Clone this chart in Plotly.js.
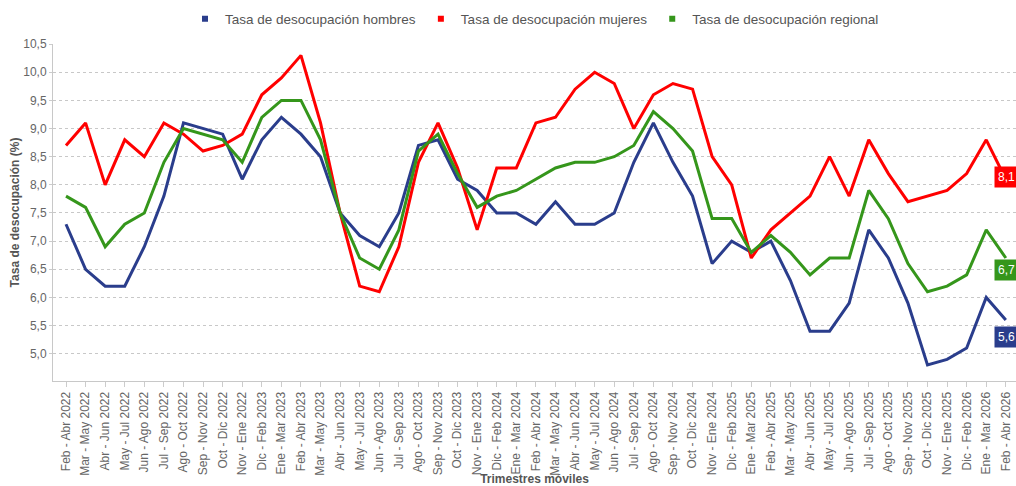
<!DOCTYPE html>
<html>
<head>
<meta charset="utf-8">
<script src="https://cdn.plot.ly/plotly-3.0.1.min.js"></script>
<style>
  html, body { margin: 0; padding: 0; background: #ffffff; }
  #chart { width: 1016px; height: 486px; }
</style>
</head>
<body>
<div id="chart"></div>
<script>
const categories = [
  'Feb - Abr 2022','Mar - May 2022','Abr - Jun 2022','May - Jul 2022','Jun - Ago 2022','Jul - Sep 2022',
  'Ago - Oct 2022','Sep - Nov 2022','Oct - Dic 2022','Nov - Ene 2022',
  'Dic - Feb 2023','Ene - Mar 2023','Feb - Abr 2023','Mar - May 2023','Abr - Jun 2023','May - Jul 2023',
  'Jun - Ago 2023','Jul - Sep 2023','Ago - Oct 2023','Sep - Nov 2023','Oct - Dic 2023','Nov - Ene 2023',
  'Dic - Feb 2024','Ene - Mar 2024','Feb - Abr 2024','Mar - May 2024','Abr - Jun 2024','May - Jul 2024',
  'Jun - Ago 2024','Jul - Sep 2024','Ago - Oct 2024','Sep - Nov 2024','Oct - Dic 2024','Nov - Ene 2024',
  'Dic - Feb 2025','Ene - Mar 2025','Feb - Abr 2025','Mar - May 2025','Abr - Jun 2025','May - Jul 2025',
  'Jun - Ago 2025','Jul - Sep 2025','Ago - Oct 2025','Sep - Nov 2025','Oct - Dic 2025','Nov - Ene 2025',
  'Dic - Feb 2026','Ene - Mar 2026','Feb - Abr 2026'
];

const hombres = [
  7.3, 6.5, 6.2, 6.2, 6.9, 7.8, 9.1, 9.0, 8.9, 8.1,
  8.8, 9.2, 8.9, 8.5, 7.5, 7.1, 6.9, 7.5, 8.7, 8.8, 8.1, 7.9,
  7.5, 7.5, 7.3, 7.7, 7.3, 7.3, 7.5, 8.4, 9.1, 8.4, 7.8, 6.6,
  7.0, 6.8, 7.0, 6.3, 5.4, 5.4, 5.9, 7.2, 6.7, 5.9, 4.8, 4.9,
  5.1, 6.0, 5.6
];

const mujeres = [
  8.7, 9.1, 8.0, 8.8, 8.5, 9.1, 8.9, 8.6, 8.7, 8.9,
  9.6, 9.9, 10.3, 9.1, 7.5, 6.2, 6.1, 6.9, 8.4, 9.1, 8.3, 7.2,
  8.3, 8.3, 9.1, 9.2, 9.7, 10.0, 9.8, 9.0, 9.6, 9.8, 9.7, 8.5,
  8.0, 6.7, 7.2, 7.5, 7.8, 8.5, 7.8, 8.8, 8.2, 7.7, 7.8, 7.9,
  8.2, 8.8, 8.1
];

const regional = [
  7.8, 7.6, 6.9, 7.3, 7.5, 8.4, 9.0, 8.9, 8.8, 8.4,
  9.2, 9.5, 9.5, 8.8, 7.5, 6.7, 6.5, 7.2, 8.6, 8.9, 8.2, 7.6,
  7.8, 7.9, 8.1, 8.3, 8.4, 8.4, 8.5, 8.7, 9.3, 9.0, 8.6, 7.4,
  7.4, 6.8, 7.1, 6.8, 6.4, 6.7, 6.7, 7.9, 7.4, 6.6, 6.1, 6.2,
  6.4, 7.2, 6.7
];

const seriesNames = [
  'Tasa de desocupación hombres',
  'Tasa de desocupación mujeres',
  'Tasa de desocupación regional'
];

const yTickValues = [5.0, 5.5, 6.0, 6.5, 7.0, 7.5, 8.0, 8.5, 9.0, 9.5, 10.0, 10.5];
const yTickLabels = ['5,0', '5,5', '6,0', '6,5', '7,0', '7,5', '8,0', '8,5', '9,0', '9,5', '10,0', '10,5'];

const xTitle = 'Trimestres móviles';
const yTitle = 'Tasa de desocupación (%)';

// ---- styling ----
const FONT = 'Liberation Sans, Arial, Helvetica, sans-serif';
const colors = ['#2a3d8c', '#ff0000', '#35961b'];
const seriesData = [hombres, mujeres, regional];
const labelShift = [-17, 2, -12];

const traces = [];
seriesData.forEach((vals, i) => {
  traces.push({
    type: 'scatter',
    mode: 'lines',
    x: categories,
    y: vals,
    name: seriesNames[i],
    line: { color: colors[i], width: 3 },
    showlegend: false,
    hoverinfo: 'x+y+name'
  });
});
// legend entries with square symbols
seriesData.forEach((vals, i) => {
  traces.push({
    type: 'scatter',
    mode: 'markers',
    x: [null],
    y: [null],
    name: seriesNames[i],
    marker: { symbol: 'square', size: 6, color: colors[i] },
    showlegend: true,
    hoverinfo: 'skip'
  });
});

const lastIdx = categories.length - 1;
const annotations = seriesData.map((vals, i) => ({
  x: categories[lastIdx],
  y: vals[lastIdx],
  xref: 'x',
  yref: 'y',
  text: vals[lastIdx].toFixed(1).replace('.', ','),
  showarrow: false,
  xanchor: 'left',
  yanchor: 'middle',
  xshift: -12,
  yshift: labelShift[i],
  bgcolor: colors[i],
  borderpad: 3,
  font: { family: FONT, size: 12, color: '#ffffff' }
}));

const layout = {
  width: 1016,
  height: 486,
  margin: { l: 53, r: 0, t: 44, b: 105, pad: 0 },
  paper_bgcolor: '#ffffff',
  plot_bgcolor: '#ffffff',
  font: { family: FONT, size: 12, color: '#666666' },
  showlegend: true,
  legend: {
    orientation: 'h',
    x: 0.5,
    xanchor: 'center',
    xref: 'paper',
    y: 1 - 19 / 486,
    yref: 'container',
    yanchor: 'middle',
    font: { family: FONT, size: 13.5, color: '#555555' },
    itemwidth: 30,
    bgcolor: 'rgba(0,0,0,0)'
  },
  xaxis: {
    type: 'category',
    range: [-0.664, 48.52],
    tickangle: -90,
    tickfont: { family: FONT, size: 12, color: '#666666' },
    ticks: 'outside',
    ticklen: 5,
    tickcolor: '#cccccc',
    showline: true,
    linecolor: '#c8c8c8',
    linewidth: 1,
    showgrid: false,
    zeroline: false,
    automargin: false,
    title: {
      text: xTitle,
      font: { family: FONT, size: 12, color: '#555555', weight: 'bold' },
      standoff: 3
    }
  },
  yaxis: {
    range: [4.515, 10.502],
    tickvals: yTickValues,
    ticktext: yTickLabels,
    tickfont: { family: FONT, size: 12, color: '#666666' },
    ticks: 'outside',
    ticklen: 3,
    tickcolor: '#cccccc',
    showline: true,
    linecolor: '#c8c8c8',
    linewidth: 1,
    showgrid: true,
    gridcolor: '#c8c8c8',
    griddash: 'dot',
    gridwidth: 1,
    zeroline: false,
    automargin: false,
    title: {
      text: yTitle,
      font: { family: FONT, size: 12, color: '#555555', weight: 'bold' },
      standoff: 1
    }
  },
  annotations: annotations
};

Plotly.newPlot('chart', traces, layout, { displayModeBar: false, responsive: false, staticPlot: true });
</script>
</body>
</html>
